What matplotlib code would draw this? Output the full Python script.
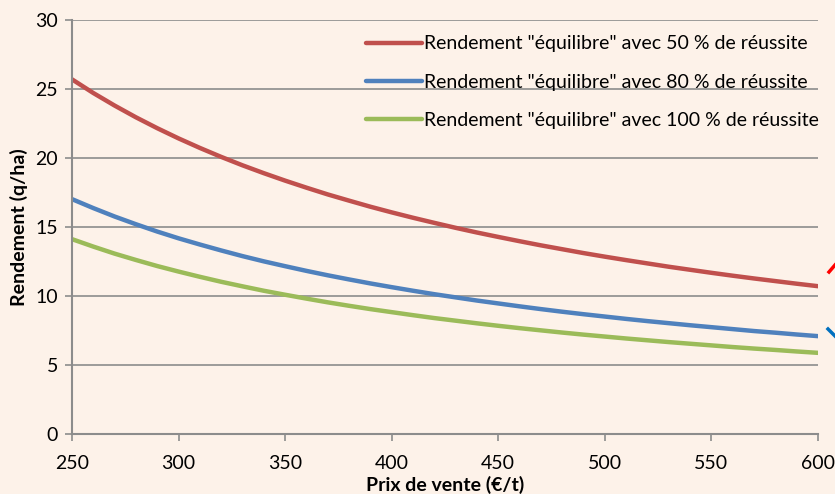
import matplotlib.pyplot as plt
from matplotlib.lines import Line2D

prix = list(range(250, 601, 10))
rdt_50 = [25.70, 24.71, 23.80, 22.95, 22.16, 21.42, 20.73, 20.08, 19.47, 18.90,
          18.36, 17.85, 17.36, 16.91, 16.47, 16.06, 15.67, 15.30, 14.94, 14.60,
          14.28, 13.97, 13.67, 13.39, 13.11, 12.85, 12.60, 12.36, 12.12, 11.90,
          11.68, 11.47, 11.27, 11.08, 10.89, 10.71]
rdt_80 = [17.02, 16.37, 15.76, 15.20, 14.67, 14.18, 13.73, 13.30, 12.89, 12.51,
          12.16, 11.82, 11.50, 11.20, 10.91, 10.64, 10.38, 10.13, 9.90, 9.67,
          9.46, 9.25, 9.05, 8.86, 8.68, 8.51, 8.34, 8.18, 8.03, 7.88,
          7.74, 7.60, 7.46, 7.34, 7.21, 7.09]
rdt_100 = [14.12, 13.58, 13.07, 12.61, 12.17, 11.77, 11.39, 11.03, 10.70, 10.38,
           10.09, 9.81, 9.54, 9.29, 9.05, 8.83, 8.61, 8.40, 8.21, 8.02,
           7.84, 7.67, 7.51, 7.35, 7.20, 7.06, 6.92, 6.79, 6.66, 6.54,
           6.42, 6.30, 6.19, 6.09, 5.98, 5.88]
labels = ['Rendement "équilibre" avec 50 % de réussite',
          'Rendement "équilibre" avec 80 % de réussite',
          'Rendement "équilibre" avec 100 % de réussite']
colors = ['#C0504D', '#4F81BD', '#9BBB59']

plt.rcParams['font.family'] = ['Lato', 'DejaVu Sans']
bg = '#FDF2E9'
grid_c = '#8C8C8C'

fig = plt.figure(figsize=(8.35, 4.94), dpi=100, facecolor=bg)
ax = fig.add_axes([0.0862, 0.1215, 0.8934, 0.838])
ax.set_facecolor(bg)

for y, lab, c in zip([rdt_50, rdt_80, rdt_100], labels, colors):
    ax.plot(prix, y, color=c, lw=3.2, label=lab, solid_capstyle='round')

ax.set_xlim(250, 600)
ax.set_ylim(0, 30)
ax.set_xticks(range(250, 601, 50))
ax.set_yticks(range(0, 31, 5))
ax.yaxis.grid(True, color=grid_c, lw=1.2)
ax.set_axisbelow(True)
for s in ['top', 'right']:
    ax.spines[s].set_visible(False)
for s in ['left', 'bottom']:
    ax.spines[s].set_color(grid_c)
    ax.spines[s].set_linewidth(1.5)
ax.tick_params(colors=grid_c, labelcolor='black', labelsize=14, length=5, width=1.2)
ax.tick_params(axis='x', pad=10)
ax.tick_params(axis='y', pad=5)

ax.set_xlabel('Prix de vente (€/t)', fontsize=14, fontweight='bold', labelpad=3)
ax.set_ylabel('Rendement (q/ha)', fontsize=14, fontweight='bold', labelpad=5)

leg = ax.legend(loc='upper right', bbox_to_anchor=(1.025, 1.005), frameon=False,
                fontsize=14, handlelength=2.9, handletextpad=0.1, labelspacing=1.1)

# bouts de flèches coupés au bord droit
fig.add_artist(Line2D([829 / 835, 1.0], [1 - 272 / 494, 1 - 265 / 494], color='red', lw=2.5))
fig.add_artist(Line2D([828 / 835, 1.0], [1 - 329 / 494, 1 - 336 / 494], color='#0070C0', lw=2.5))

fig.savefig('out.png', dpi=100, facecolor=bg)
